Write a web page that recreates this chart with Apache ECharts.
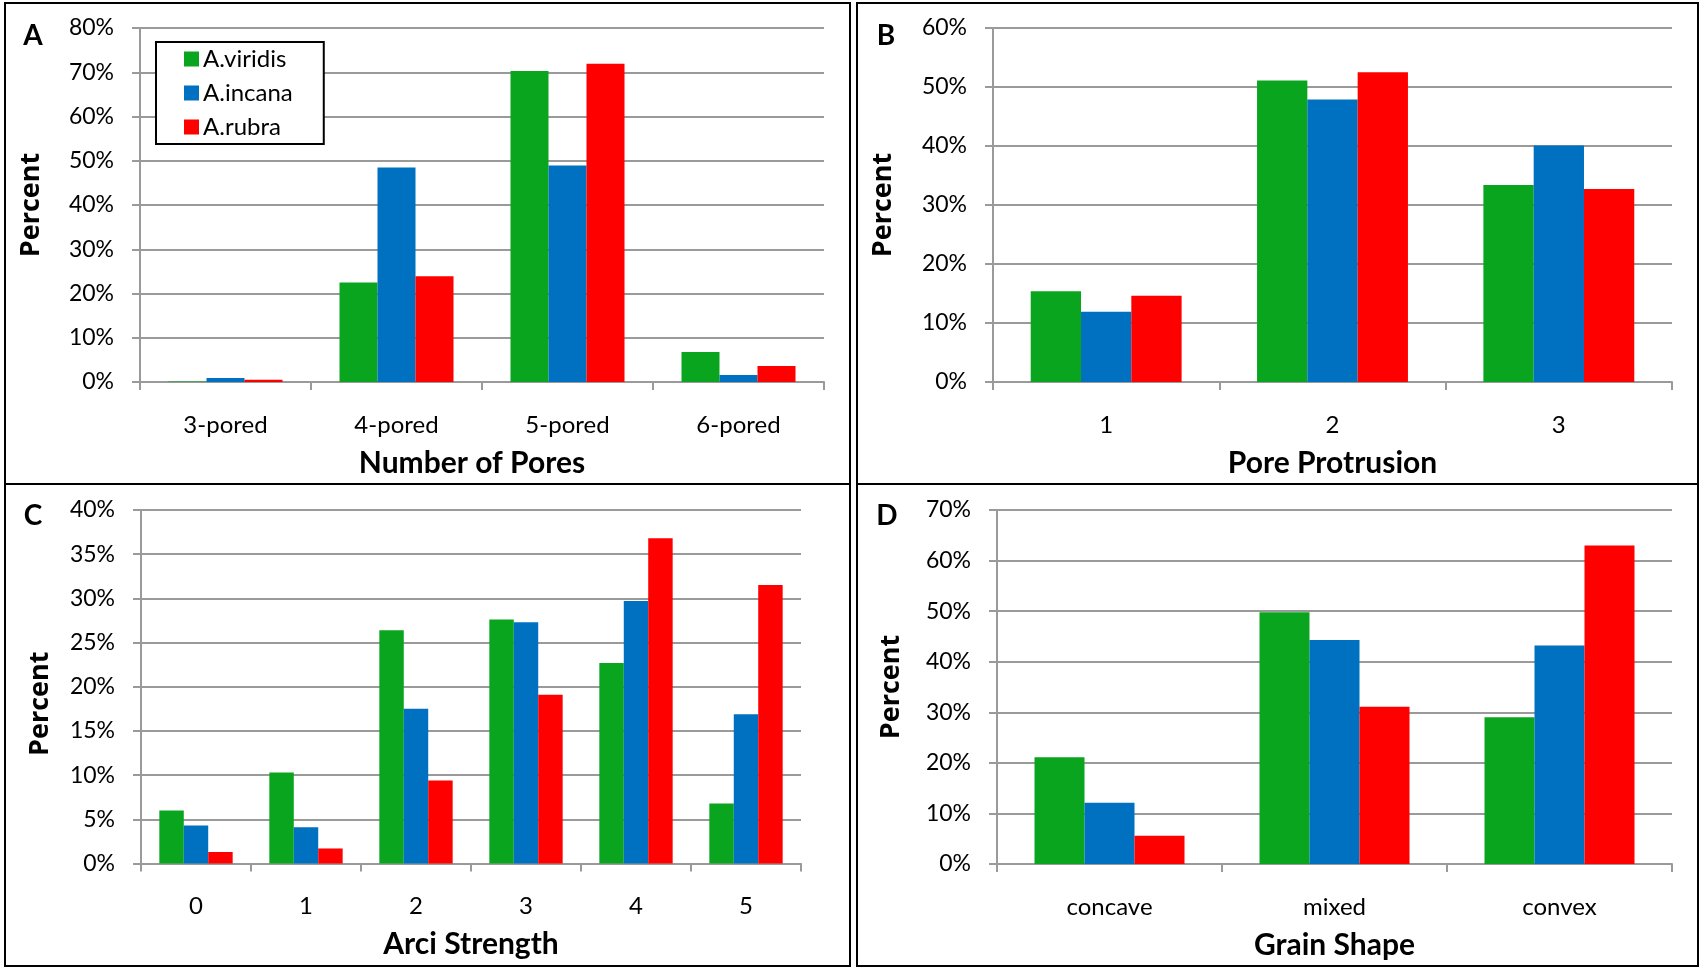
<!DOCTYPE html>
<html>
<head>
<meta charset="utf-8">
<title>Alnus pollen morphology</title>
<script src="https://cdn.jsdelivr.net/npm/echarts@6/dist/echarts.min.js"></script>
<style>
  html, body { margin: 0; padding: 0; background: #fff; }
  #chart { width: 1700px; height: 967px; }
</style>
</head>
<body>
<div id="chart"></div>
<script>
// Species shown in every panel
const speciesNames = ['A.viridis', 'A.incana', 'A.rubra'];

// Panel A: number of pores
const poreCategories = ['3-pored', '4-pored', '5-pored', '6-pored'];
const poreViridis = [0.1, 22.5, 70.3, 6.8];
const poreIncana  = [0.9, 48.5, 48.9, 1.6];
const poreRubra   = [0.5, 23.9, 71.9, 3.6];

// Panel B: pore protrusion
const protrusionCategories = ['1', '2', '3'];
const protrusionViridis = [15.4, 51.1, 33.4];
const protrusionIncana  = [11.9, 47.9, 40.1];
const protrusionRubra   = [14.6, 52.5, 32.7];

// Panel C: arci strength
const arciCategories = ['0', '1', '2', '3', '4', '5'];
const arciViridis = [6.0, 10.3, 26.4, 27.6, 22.7, 6.8];
const arciIncana  = [4.3, 4.1, 17.5, 27.3, 29.7, 16.9];
const arciRubra   = [1.3, 1.7, 9.4, 19.1, 36.8, 31.5];

// Panel D: grain shape
const shapeCategories = ['concave', 'mixed', 'convex'];
const shapeViridis = [21.1, 49.8, 29.0];
const shapeIncana  = [12.1, 44.3, 43.2];
const shapeRubra   = [5.6, 31.1, 63.0];

// Y axis ranges (percent) for panels A-D
const yMax = [80, 60, 40, 70];
const yStep = [10, 10, 5, 10];

const speciesColors = ['#0AA51E', '#0070C0', '#FF0000'];
const axisGray = '#9a9a9a';
const baseFont = 'Lato';

const panels = [
  { cats: poreCategories, data: [poreViridis, poreIncana, poreRubra], title: 'Number of Pores',
    grid: { left: 140, top: 28, width: 684, height: 354 }, xPad: [0, 20, 0, 0], yPad: [0, 0, 0, 0], yGap: 95 },
  { cats: protrusionCategories, data: [protrusionViridis, protrusionIncana, protrusionRubra], title: 'Pore Protrusion',
    grid: { left: 993, top: 28, width: 679, height: 354 }, xPad: [0, 0, 0, 0], yPad: [0, 0, 0, 0], yGap: 96 },
  { cats: arciCategories, data: [arciViridis, arciIncana, arciRubra], title: 'Arci Strength',
    grid: { left: 141, top: 510, width: 660, height: 353.5 }, xPad: [0, 0, 0, 0], yPad: [0, 34, 0, 0], yGap: 87 },
  { cats: shapeCategories, data: [shapeViridis, shapeIncana, shapeRubra], title: 'Grain Shape',
    grid: { left: 997, top: 510, width: 675, height: 354 }, xPad: [0, 0, 0, 0], yPad: [0, 0, 0, 0], yGap: 92 }
];

const grids = [];
const xAxes = [];
const yAxes = [];
const series = [];

panels.forEach((p, i) => {
  grids.push(Object.assign({ containLabel: false }, p.grid));
  xAxes.push({
    type: 'category',
    gridIndex: i,
    data: p.cats,
    boundaryGap: true,
    axisLine: { show: true, lineStyle: { color: axisGray, width: 2 } },
    axisTick: { show: true, alignWithLabel: false, length: 8, lineStyle: { color: axisGray, width: 2 } },
    axisLabel: { color: '#000', fontFamily: baseFont, fontSize: 24, margin: 31 },
    name: p.title,
    nameLocation: 'middle',
    nameGap: 66,
    nameTextStyle: { color: '#000', fontFamily: baseFont, fontWeight: 'bold', fontSize: 30, padding: p.xPad }
  });
  yAxes.push({
    type: 'value',
    gridIndex: i,
    min: 0,
    max: yMax[i],
    interval: yStep[i],
    axisLine: { show: true, lineStyle: { color: axisGray, width: 2 } },
    axisTick: { show: true, length: 8, lineStyle: { color: axisGray, width: 2 } },
    splitLine: { show: true, lineStyle: { color: axisGray, width: 2 } },
    axisLabel: { color: '#000', fontFamily: baseFont, fontSize: 23, margin: 26, formatter: '{value}%' },
    name: 'Percent',
    nameLocation: 'middle',
    nameRotate: 90,
    nameGap: p.yGap,
    nameTextStyle: { color: '#000', fontFamily: 'Open Sans', fontWeight: 'bold', fontSize: 27, padding: p.yPad }
  });
  p.data.forEach((vals, s) => {
    series.push({
      type: 'bar',
      name: speciesNames[s],
      xAxisIndex: i,
      yAxisIndex: i,
      data: vals,
      barGap: '0%',
      barCategoryGap: '33.33%',
      itemStyle: { color: speciesColors[s] },
      emphasis: { disabled: true }
    });
  });
});

// Panel frames and letters
const frames = [
  { x: 5, y: 3, width: 845, height: 481 },
  { x: 857, y: 3, width: 841, height: 481 },
  { x: 5, y: 484, width: 845, height: 482 },
  { x: 857, y: 484, width: 841, height: 482 }
];
const letters = [
  { t: 'A', x: 33, y: 36 },
  { t: 'B', x: 886, y: 36 },
  { t: 'C', x: 33, y: 516 },
  { t: 'D', x: 887, y: 516 }
];
const graphics = [];
frames.forEach(f => graphics.push({
  type: 'rect', shape: f, z: 100,
  style: { fill: 'none', stroke: '#000', lineWidth: 2 }
}));
letters.forEach(l => graphics.push({
  type: 'text', x: l.x, y: l.y, z: 100,
  style: { text: l.t, fill: '#000', font: 'bold 28px Lato', textAlign: 'center', textVerticalAlign: 'middle' }
}));

const chart = echarts.init(document.getElementById('chart'), null, { renderer: 'canvas' });
chart.setOption({
  animation: false,
  backgroundColor: '#fff',
  grid: grids,
  xAxis: xAxes,
  yAxis: yAxes,
  series: series,
  legend: {
    data: speciesNames,
    orient: 'vertical',
    left: 156,
    top: 42,
    itemWidth: 15,
    itemHeight: 15,
    itemGap: 10,
    icon: 'rect',
    padding: [5, 31, 5, 28],
    backgroundColor: '#fff',
    borderColor: '#000',
    borderWidth: 2,
    borderRadius: 0,
    selectedMode: false,
    textStyle: { color: '#000', fontFamily: baseFont, fontSize: 24, padding: [0, 0, 0, -1] },
    z: 10
  },
  graphic: graphics
});
</script>
</body>
</html>
